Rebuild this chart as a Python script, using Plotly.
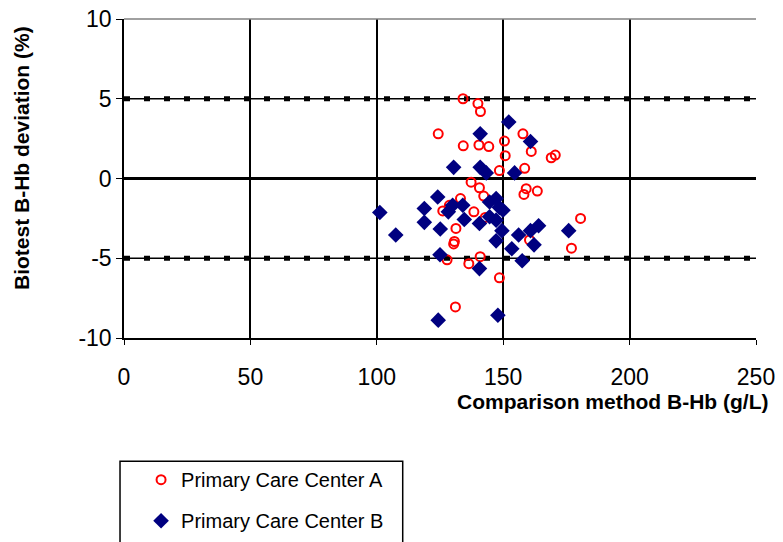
import plotly.graph_objects as go

a_x = [134.1, 140.0, 141.0, 124.3, 134.2, 140.4, 144.3, 150.5, 157.8, 161.1, 150.8, 169.0, 170.6,
       158.5, 148.5, 137.3, 140.6, 142.3, 159.1, 158.2, 163.5, 142.9, 180.6, 160.4, 177.0, 128.7,
       126.1, 133.1, 138.4, 131.3, 130.7, 130.4, 127.8, 136.4, 140.9, 131.1, 148.5]
a_y = [5.0, 4.7, 4.2, 2.8, 2.05, 2.1, 2.0, 2.35, 2.8, 1.7, 1.43, 1.3, 1.47,
       0.64, 0.5, -0.23, -0.58, -1.1, -0.64, -1.0, -0.79, -2.44, -2.5, -3.85, -4.37, -1.68,
       -2.03, -1.26, -2.09, -3.13, -3.95, -4.1, -5.1, -5.34, -4.9, -8.05, -6.23]

b_x = [140.9, 130.4, 140.9, 143.3, 152.2, 160.8, 154.5, 101.2, 107.5, 118.8, 118.8, 124.1, 125.1,
       128.3, 130.0, 134.0, 134.6, 140.6, 144.6, 147.2, 144.6, 148.5, 149.9, 147.2, 149.5, 147.2,
       156.1, 160.8, 164.0, 175.9, 162.2, 153.4, 125.0, 140.6, 124.3, 157.5, 147.9]
b_y = [2.8, 0.7, 0.7, 0.35, 3.54, 2.32, 0.35, -2.13, -3.54, -1.88, -2.75, -1.16, -3.17,
       -2.09, -1.68, -1.68, -2.57, -2.82, -2.4, -1.26, -1.47, -1.82, -1.99, -2.61, -3.27, -3.91,
       -3.54, -3.27, -2.96, -3.27, -4.16, -4.4, -4.78, -5.65, -8.88, -5.16, -8.57]

x_ticks = [0, 50, 100, 150, 200, 250]
x_tick_text = ["0", "50", "100", "150", "200", "250"]
y_ticks = [-10, -5, 0, 5, 10]
y_tick_text = ["-10", "-5", "0", "5", "10"]
limit_lines = [-5, 5]

FONT = "Liberation Sans, Arial, sans-serif"

fig = go.Figure()
fig.add_trace(go.Scatter(
    x=a_x, y=a_y, mode="markers", name="Primary Care Center A", legendgroup="a",
    marker=dict(symbol="circle-open", size=9, color="#ff0000", line=dict(width=2, color="#ff0000")),
))
fig.add_trace(go.Scatter(
    x=b_x, y=b_y, mode="markers", name="Primary Care Center B", legendgroup="b",
    marker=dict(symbol="diamond", size=12, color="#000080", line=dict(width=0)),
))

shapes = []
for v in limit_lines:
    shapes.append(dict(type="line", xref="x", yref="y", x0=0, x1=250, y0=v, y1=v,
                       line=dict(color="black", width=1.5), layer="below"))
    shapes.append(dict(type="line", xref="x", yref="y", x0=0, x1=250, y0=v, y1=v,
                       line=dict(color="black", width=5, dash="6px,14px"), layer="below"))
# top border (grey)
shapes.append(dict(type="line", xref="paper", yref="paper", x0=0, x1=1, y0=1, y1=1,
                   line=dict(color="#808080", width=1.5)))
# legend box
shapes.append(dict(type="rect", xref="paper", yref="paper", x0=-0.0063, x1=0.441, y0=-0.386, y1=-0.76,
                   line=dict(color="black", width=1.5), fillcolor="rgba(0,0,0,0)"))

fig.update_layout(
    width=783, height=542,
    margin=dict(l=116, r=35, t=11, b=212, autoexpand=False),
    paper_bgcolor="white", plot_bgcolor="white",
    font=dict(family=FONT, color="black"),
    shapes=shapes,
    showlegend=True,
    legend=dict(x=0.027, y=-0.383, xanchor="left", yanchor="top", font=dict(size=20, family=FONT),
                tracegroupgap=12, bgcolor="rgba(0,0,0,0)", borderwidth=0),
    xaxis=dict(range=[0, 250], tickvals=x_ticks, ticktext=x_tick_text, showgrid=True,
               gridcolor="black", gridwidth=1.5, automargin=False, ticklabeloverflow="allow",
               zeroline=False, showline=True, linecolor="black", linewidth=1.5,
               ticks="outside", ticklen=5, tickcolor="black", tickfont=dict(size=23, family=FONT),
               ticklabelstandoff=13),
    yaxis=dict(range=[-10, 10], tickvals=y_ticks, ticktext=y_tick_text, showgrid=False, automargin=False,
               ticklabeloverflow="allow",
               zeroline=True, zerolinecolor="black", zerolinewidth=3,
               showline=True, linecolor="black", linewidth=1.5,
               ticks="outside", ticklen=6, tickcolor="black", tickfont=dict(size=23, family=FONT)),
    annotations=[
        dict(text="<b>Comparison method B-Hb (g/L)</b>", xref="paper", yref="paper",
             x=1.022, y=-0.2, xanchor="right", yanchor="middle", showarrow=False,
             font=dict(size=21, family=FONT)),
        dict(text="<b>Biotest B-Hb deviation (%)</b>", xref="paper", yref="paper",
             x=-0.161, y=0.565, xanchor="center", yanchor="middle", textangle=-90, showarrow=False,
             font=dict(size=21, family=FONT)),
    ],
)

fig.write_html("out.html")
